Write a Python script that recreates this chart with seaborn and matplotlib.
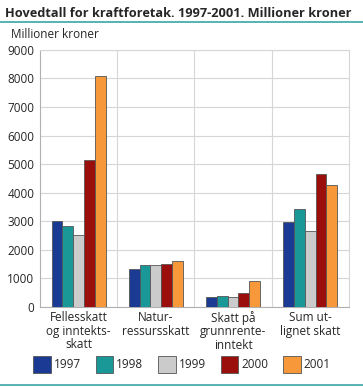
import pandas as pd
import matplotlib.pyplot as plt
import matplotlib.lines as mlines
import seaborn as sb

# Data (millioner kroner)
categories = ['Fellesskatt\nog inntekts-\nskatt', 'Natur-\nressursskatt',
              'Skatt på\ngrunnrente-\ninntekt', 'Sum ut-\nlignet skatt']
years = ['1997', '1998', '1999', '2000', '2001']
v1997 = [3020, 1320, 350, 2980]
v1998 = [2850, 1460, 370, 3420]
v1999 = [2510, 1460, 350, 2670]
v2000 = [5150, 1500, 470, 4670]
v2001 = [8100, 1590, 900, 4270]
colors = ['#1b3a93', '#1a9898', '#cbcbcb', '#9a0e0b', '#f7993a']

sb.set_style('white')
plt.rcParams['font.family'] = ['Open Sans', 'DejaVu Sans']

rows = []
for year, vals in zip(years, [v1997, v1998, v1999, v2000, v2001]):
    for cat, v in zip(categories, vals):
        rows.append({'kategori': cat, 'år': year, 'verdi': v})
df = pd.DataFrame(rows)

fig = plt.figure(figsize=(3.63, 3.87), dpi=100)
ax = fig.add_axes([0.110, 0.207, 0.851, 0.664])

sb.barplot(data=df, x='kategori', y='verdi', hue='år', palette=colors,
           width=0.7, edgecolor='#555555', linewidth=0.6, saturation=1,
           ax=ax, zorder=3)

ax.set_ylim(0, 9000)
ax.set_xlim(-0.5, 3.5)
ax.set_yticks(range(0, 9001, 1000))
ax.set_xticks([0.5, 1.5, 2.5], minor=True)
ax.grid(axis='y', color='#d6d6d6', linewidth=0.8, zorder=0)
ax.grid(axis='x', which='minor', color='#d6d6d6', linewidth=0.8, zorder=0)
ax.tick_params(axis='x', which='both', length=0, labelsize=8.5, pad=3)
ax.tick_params(axis='y', length=0, labelsize=8.5, pad=4)
for lbl in ax.get_xticklabels():
    lbl.set_linespacing(1.05)
ax.set_xlabel('')
ax.set_ylabel('')
for side in ['top', 'right']:
    ax.spines[side].set_color('#d6d6d6')
ax.spines['left'].set_color('#b0b0b0')
ax.spines['bottom'].set_color('#b0b0b0')

leg = ax.legend(loc='upper center', bbox_to_anchor=(0.46, -0.19), ncol=5,
                frameon=False, fontsize=8.5, handlelength=1.5, handleheight=1.9,
                handletextpad=0.25, columnspacing=1.25, borderaxespad=0,
                borderpad=0)
for h in leg.legend_handles:
    h.set_edgecolor('#555555')

fig.text(0.015, 0.965, 'Hovedtall for kraftforetak. 1997-2001. Millioner kroner',
         fontsize=9.2, fontweight='bold', va='center', ha='left')
fig.text(0.03, 0.912, 'Millioner kroner', fontsize=8.5, va='center', ha='left')
fig.add_artist(mlines.Line2D([0, 1], [0.943, 0.943], color='#3aa6a6', linewidth=1.2))
fig.add_artist(mlines.Line2D([0, 1], [0.006, 0.006], color='#3aa6a6', linewidth=1.2))

fig.savefig('out.png', dpi=100)
